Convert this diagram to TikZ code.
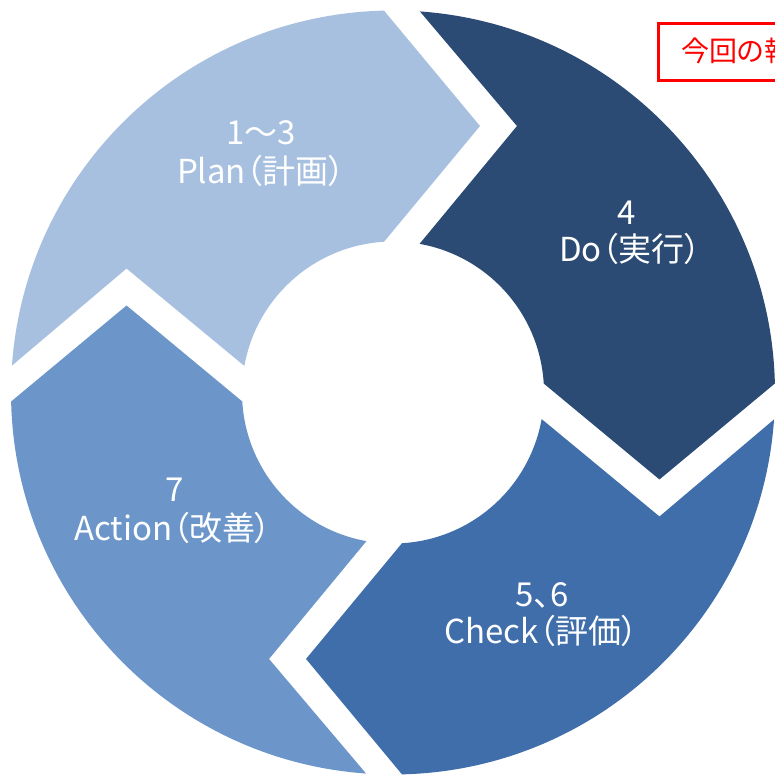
\documentclass[tikz,border=0pt]{standalone}
\usepackage{fontspec}
\newfontfamily\jp[RawFeature=+palt]{Noto Sans CJK JP}
\definecolor{planc}{HTML}{A8C0E0}
\definecolor{doc}{HTML}{2B4B74}
\definecolor{checkc}{HTML}{3F6EAB}
\definecolor{actc}{HTML}{6C96C9}
\definecolor{redc}{HTML}{FF0000}
\tikzset{
  lbl/.style={text=white, font=\jp\fontsize{33}{38}\selectfont, anchor=base, inner sep=0pt},
  redlbl/.style={text=redc, font=\jp\fontsize{28}{32}\selectfont, anchor=base west, inner sep=0pt},
}
% segment from gap #1 (departing) to gap #2 (arriving)
\newcommand{\cycseg}[3]{%
  \fill[#3,shift={(393,382.5)}]
    ({#1-4.04}:382) arc[start angle={#1-4.04}, end angle={#2+1.35}, radius=382]
    -- ({#2-18.08}:280.3)
    -- ({#2+3.41}:151)
    arc[start angle={#2+3.41}, end angle={#1-10.14}, radius=151]
    -- ({#1-24.95}:293.9) -- cycle;}
\begin{document}
\begin{tikzpicture}[x=1pt,y=1pt]
\useasboundingbox (0,0) rectangle (775,775);
\fill[white] (0,0) rectangle (775,775);
\cycseg{180}{90}{planc}
\cycseg{90}{0}{doc}
\cycseg{360}{270}{checkc}
\cycseg{270}{180}{actc}
\node[lbl] (plan1) at (261,630) {1～3};
\node[lbl] (plan2) at (261,591) {Plan（計画）};
\node[lbl] (do1) at (627,550) {4};
\node[lbl] (do2) at (630,513) {Do（実行）};
\node[lbl] (ch1) at (542,168) {5、6};
\node[lbl] (ch2) at (541,131) {Check（評価）};
\node[lbl] (ac1) at (175,273) {7};
\node[lbl] (ac2) at (173,234) {Action（改善）};
\draw[redc, line width=3pt] (658.5,694) rectangle (900,751.5);
\node[redlbl] (cur) at (681,713) {今回の報告対象};
\end{tikzpicture}
\end{document}
